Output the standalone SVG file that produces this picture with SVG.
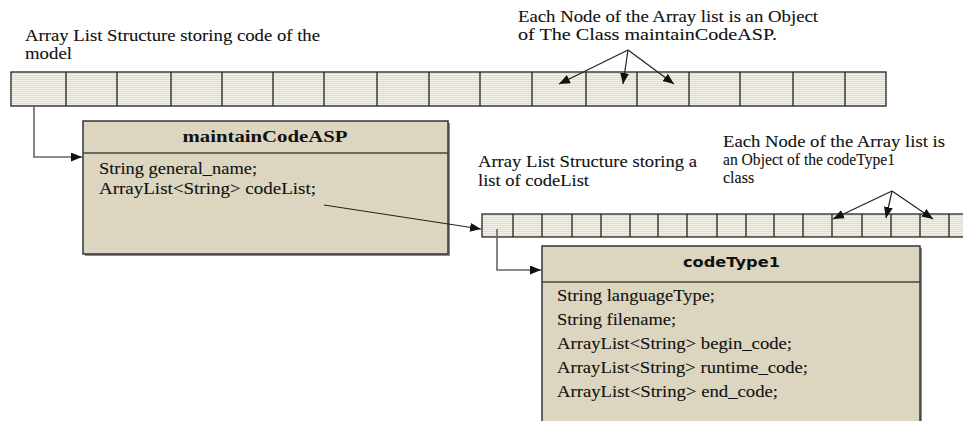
<svg xmlns="http://www.w3.org/2000/svg" width="963" height="421" viewBox="0 0 963 421">
<defs>
<pattern id="stripes" patternUnits="userSpaceOnUse" width="4" height="2">
<rect width="4" height="2" fill="#f5f2e9"/>
<rect y="1" width="4" height="1" fill="#e0dbca"/>
</pattern>
<marker id="ah" markerUnits="userSpaceOnUse" markerWidth="12" markerHeight="10" refX="11" refY="4.5" orient="auto">
<path d="M0,0 L11,4.5 L0,9 z" fill="#111"/>
</marker>
<style>
.t{font-family:"Liberation Serif","Times New Roman",serif;font-size:16px;fill:#111;stroke:#111;stroke-width:0.1}
.tb{font-family:"Liberation Serif","Times New Roman",serif;font-size:16px;font-weight:bold;fill:#111}
.ts{font-family:"DejaVu Sans",Verdana,sans-serif;font-size:14px;font-weight:bold;fill:#111}
.cell{fill:url(#stripes);stroke:#222;stroke-width:1.3}
.box{fill:#dcd6c0;stroke:#333;stroke-width:1.5}
.shadow{fill:#8c8c8c}
.sep{stroke:#444;stroke-width:1.5}
.elbow{fill:none;stroke:#666;stroke-width:1.6}
.arr{fill:none;stroke:#222;stroke-width:1.2}
</style>
</defs>

<g id="array1">
<rect class="cell" x="11" y="72" width="875" height="34"/>
<path d="M66 72V106M117 72V106M171 72V106M222 72V106M273 72V106M324 72V106M377 72V106M429 72V106M480 72V106M532 72V106M586 72V106M637 72V106M689 72V106M740 72V106M793 72V106M845 72V106" stroke="#222" stroke-width="1.3"/>
</g>

<g id="array2">
<rect class="cell" x="482" y="214" width="490" height="23"/>
<path d="M513 214V237M542 214V237M572 214V237M601 214V237M630 214V237M658 214V237M687 214V237M717 214V237M746 214V237M774 214V237M803 214V237M832 214V237M862 214V237M891 214V237M920 214V237M949 214V237" stroke="#222" stroke-width="1.3"/>
</g>

<g id="label-array1">
<text class="t" x="25" y="41" textLength="295" lengthAdjust="spacingAndGlyphs">Array List Structure storing code of the</text>
<text class="t" x="25" y="59" textLength="47" lengthAdjust="spacingAndGlyphs">model</text>
</g>

<g id="label-node1">
<text class="t" x="518" y="22" textLength="300" lengthAdjust="spacingAndGlyphs">Each Node of the Array list is an Object</text>
<text class="t" x="518" y="40" textLength="259" lengthAdjust="spacingAndGlyphs">of The Class maintainCodeASP.</text>
</g>

<g id="label-array2">
<text class="t" x="478" y="167" textLength="219" lengthAdjust="spacingAndGlyphs">Array List Structure storing a</text>
<text class="t" x="478" y="186" textLength="111" lengthAdjust="spacingAndGlyphs">list of codeList</text>
</g>

<g id="label-node2">
<text class="t" x="723" y="147" textLength="222" lengthAdjust="spacingAndGlyphs">Each Node of the Array list is</text>
<text class="t" x="723" y="165" textLength="172" lengthAdjust="spacingAndGlyphs">an Object of the codeType1</text>
<text class="t" x="723" y="183">class</text>
</g>

<g id="maintainCodeASP">
<rect class="shadow" x="85" y="123" width="365" height="133"/>
<rect class="box" x="83" y="121" width="365" height="133"/>
<line class="sep" x1="83" y1="153" x2="448" y2="153"/>
<text class="tb" x="265" y="142" text-anchor="middle" textLength="165" lengthAdjust="spacingAndGlyphs">maintainCodeASP</text>
<text class="t" x="99" y="174" textLength="158" lengthAdjust="spacingAndGlyphs">String general_name;</text>
<text class="t" x="99" y="194" textLength="217" lengthAdjust="spacingAndGlyphs">ArrayList&lt;String&gt; codeList;</text>
</g>

<g id="codeType1">
<rect class="shadow" x="544" y="248" width="378" height="200"/>
<rect class="box" x="542" y="246" width="378" height="200"/>
<line class="sep" x1="542" y1="282" x2="920" y2="282"/>
<text class="ts" x="731.5" y="267" text-anchor="middle" textLength="97" lengthAdjust="spacingAndGlyphs">codeType1</text>
<text class="t" x="557" y="301" textLength="158" lengthAdjust="spacingAndGlyphs">String languageType;</text>
<text class="t" x="557" y="325" textLength="119" lengthAdjust="spacingAndGlyphs">String filename;</text>
<text class="t" x="557" y="349" textLength="235" lengthAdjust="spacingAndGlyphs">ArrayList&lt;String&gt; begin_code;</text>
<text class="t" x="557" y="373" textLength="251" lengthAdjust="spacingAndGlyphs">ArrayList&lt;String&gt; runtime_code;</text>
<text class="t" x="557" y="397" textLength="221" lengthAdjust="spacingAndGlyphs">ArrayList&lt;String&gt; end_code;</text>
</g>

<g id="connectors">
<path class="elbow" d="M34 106V157H82" marker-end="url(#ah)"/>
<path class="elbow" d="M497 229V270H541" marker-end="url(#ah)"/>
<path class="arr" d="M324 205L481 229" marker-end="url(#ah)"/>
<path class="arr" d="M628 50L559 84" marker-end="url(#ah)"/>
<path class="arr" d="M628 50L623 84" marker-end="url(#ah)"/>
<path class="arr" d="M628 50L674 84" marker-end="url(#ah)"/>
<path class="arr" d="M892 191L833 219" marker-end="url(#ah)"/>
<path class="arr" d="M892 191L886 218" marker-end="url(#ah)"/>
<path class="arr" d="M892 191L933 219" marker-end="url(#ah)"/>
</g>
</svg>
